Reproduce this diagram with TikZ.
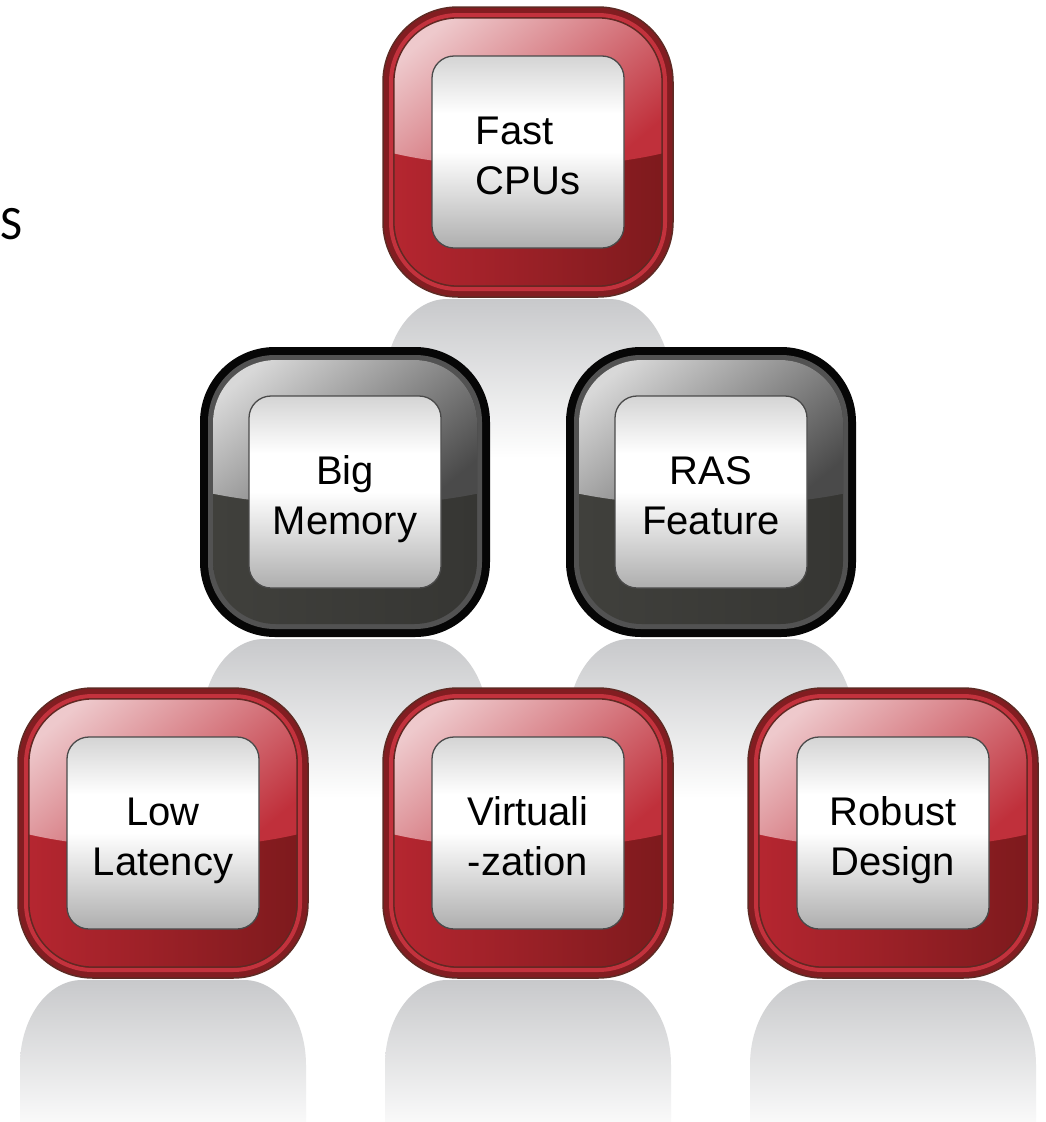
\documentclass[tikz,border=0pt]{standalone}
\usepackage{fontspec}
\setmainfont{Liberation Sans}
\newfontfamily\calibfont{Carlito}
\definecolor{redEdge}{HTML}{5E2A24}
\definecolor{redBand}{HTML}{821D21}
\definecolor{redLine}{HTML}{C3323D}
\definecolor{redLowL}{HTML}{B52630}
\definecolor{redLowR}{HTML}{7E1A1D}
\definecolor{redGlossTL}{HTML}{EEC9CC}
\definecolor{redGlossR}{HTML}{C0303B}
\definecolor{blkEdge}{HTML}{060606}
\definecolor{blkBand}{HTML}{525252}
\definecolor{blkLowL}{HTML}{40403C}
\definecolor{blkLowR}{HTML}{363633}
\definecolor{blkGlossTL}{HTML}{D8D8D8}
\definecolor{blkGlossR}{HTML}{4A4A4A}
\definecolor{boxTop}{HTML}{D4D4D4}
\definecolor{boxBottom}{HTML}{AEAEAE}
\definecolor{boxEdge}{HTML}{4A4A4A}
\definecolor{reflTop}{HTML}{C8C9CB}
\pgfdeclareverticalshading{boxshade}{100bp}{color(0bp)=(boxBottom); color(25bp)=(boxBottom); color(50bp)=(white); color(60bp)=(white); color(75bp)=(boxTop); color(100bp)=(boxTop)}
\pgfdeclareverticalshading{reflshade}{100bp}{color(0bp)=(white); color(25bp)=(white); color(32bp)=(white); color(75bp)=(reflTop); color(100bp)=(reflTop)}
\tikzset{
  labelbox/.style={shade, shading=boxshade, draw=boxEdge, line width=1.3pt,
    rounded corners=22, minimum width=192, minimum height=192, inner sep=0,
    text height=90, text depth=6,
    align=center, font=\fontsize{40}{50}\selectfont},
  reflshape/.style={shading=reflshade},
}
% reflection: cx, top y
\newcommand\reflpart[2]{%
  \begin{scope}[shift={(#1,#2)}]
    \shade[reflshape] (-143,185) -- (-143,85) arc[start angle=180,end angle=270,x radius=62,y radius=85]
      -- (81,0) arc[start angle=270,end angle=360,x radius=62,y radius=85] -- (143,185) -- cycle;
  \end{scope}}
% red tile: name, cx, cy, text, extra node options
\newcommand\redtile[5]{%
  \begin{scope}[shift={(#2,#3)}]
    \draw[draw=redEdge, fill=redBand, line width=1.5pt, rounded corners=75] (-145,-145) rectangle (145,145);
    \draw[draw=redLine, line width=4pt, rounded corners=67] (-137,-137) rectangle (137,137);
    \shade[left color=redLowL, right color=redLowR, rounded corners=64] (-134,-134) rectangle (134,134);
    \begin{scope}
      \clip[rounded corners=64] (-134,-134) rectangle (134,134);
      \shade[top color=redGlossTL, bottom color=redGlossR, shading angle=40]
        (-140,-140) -- (-140,0) .. controls (-60,20) and (60,20) .. (140,0) -- (140,-140) -- cycle;
    \end{scope}
    \draw[draw=redEdge, line width=1.2pt, rounded corners=64] (-134,-134) rectangle (134,134);
    \node[labelbox,#5] (#1) at (0,0) {#4};
  \end{scope}}
% black tile
\newcommand\blktile[5]{%
  \begin{scope}[shift={(#2,#3)}]
    \fill[blkEdge, rounded corners=75] (-145,-145) rectangle (145,145);
    \fill[blkBand, rounded corners=67] (-137,-137) rectangle (137,137);
    \shade[left color=blkLowL, right color=blkLowR, rounded corners=63] (-132,-132) rectangle (132,132);
    \begin{scope}
      \clip[rounded corners=63] (-132,-132) rectangle (132,132);
      \shade[top color=blkGlossTL, bottom color=blkGlossR, shading angle=40]
        (-140,-140) -- (-140,0) .. controls (-60,18) and (60,18) .. (140,0) -- (140,-140) -- cycle;
    \end{scope}
    \node[labelbox,#5] (#1) at (0,0) {#4};
  \end{scope}}
\begin{document}
\begin{tikzpicture}[x=1pt,y=-1pt]
\useasboundingbox[fill=white] (0,0) rectangle (1045,1122);
\node[anchor=base west, inner sep=0, font=\calibfont\fontsize{48}{50}\selectfont] (s) at (0,239) {S};
% top row
\reflpart{528}{299}
\redtile{cpu}{528}{152}{Fast\\CPUs}{align=left}
% middle row
\reflpart{345}{639}
\reflpart{711}{639}
\blktile{mem}{345}{492}{Big\\Memory}{}
\blktile{ras}{711}{492}{RAS\\Feature}{}
% bottom row
\reflpart{163}{980}
\reflpart{528}{980}
\reflpart{893}{980}
\redtile{lat}{163}{833}{Low\\Latency}{}
\redtile{virt}{528}{833}{Virtuali\\-zation}{}
\redtile{rob}{893}{833}{Robust\\Design}{}
\end{tikzpicture}
\end{document}
